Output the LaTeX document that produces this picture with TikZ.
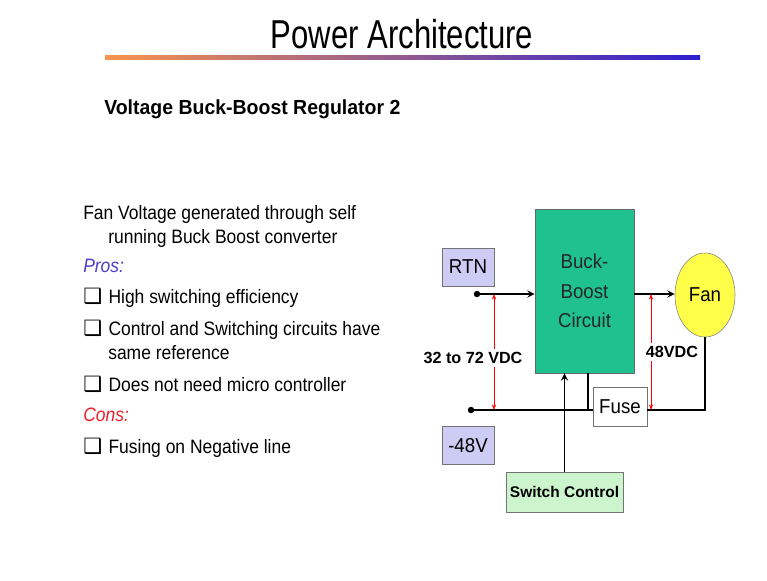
\documentclass[tikz,border=0pt]{standalone}
\usepackage{fontspec}
\setmainfont{Liberation Sans}
\newfontfamily\titlefont[FakeStretch=0.77]{Liberation Sans}
\newfontfamily\headfont[FakeStretch=0.955]{Liberation Sans}
\newfontfamily\bodyfont[FakeStretch=0.9]{Liberation Sans}
\newfontfamily\blockfont[FakeStretch=0.93]{Liberation Sans}
\newfontfamily\symfont{DejaVu Sans}
\usetikzlibrary{positioning,shapes.geometric,arrows.meta}
\definecolor{blockgreen}{HTML}{1FC28F}
\definecolor{termblue}{HTML}{CCCCF5}
\definecolor{fanyellow}{HTML}{FFFF4A}
\definecolor{ctrlgreen}{HTML}{CDF5CD}
\definecolor{prosblue}{HTML}{4A3FC8}
\definecolor{consred}{HTML}{F0202A}
\newcommand{\chkbox}{{\symfont\fontsize{15}{16}\selectfont ❑}}
\tikzset{
  bodytext/.style={anchor=base west, font=\bodyfont\fontsize{13.8}{16}\selectfont},
  termbox/.style={draw=black!55, fill=termblue, minimum width=1.3cm, minimum height=0.95cm, font=\blockfont\fontsize{14.3}{17}\selectfont},
  wire/.style={line width=1.3pt},
  vmark/.style={red, thin, {Stealth[length=4pt,width=3pt]}-{Stealth[length=4pt,width=3pt]}},
}
\begin{document}
\begin{tikzpicture}[x=0.025cm, y=-0.025cm, >=stealth, every node/.style={inner sep=0pt}]
  \fill[white] (0,0) rectangle (767,580);
  \useasboundingbox (0,0) rectangle (767,580);

  % 1. title
  \node[anchor=base, font=\titlefont\fontsize{28.7}{34}\selectfont] (title) at (402,48) {Power Architecture};
  \shade[left color={rgb,255:red,247;green,148;blue,79}, middle color={rgb,255:red,196;green,96;blue,150},
         right color={rgb,255:red,44;green,31;blue,207}] (105,55.5) rectangle (700,59.5);
  \node[anchor=base west, font=\headfont\bfseries\fontsize{14.5}{17}\selectfont] (subtitle) at (104,114) {Voltage Buck-Boost Regulator 2};

  % 2. text block
  \node[bodytext] (l1) at (83,219) {Fan Voltage generated through self};
  \node[bodytext] (l2) at (108,243) {running Buck Boost converter};
  \node[bodytext, text=prosblue, font=\bodyfont\itshape\fontsize{13.8}{16}\selectfont] (pros) at (83,272) {Pros:};
  \node[bodytext] (p1) at (83,303) {\chkbox\hspace{4.5pt}High switching efficiency};
  \node[bodytext] (p2) at (83,335) {\chkbox\hspace{4.5pt}Control and Switching circuits have};
  \node[bodytext] (p2b) at (108,359) {same reference};
  \node[bodytext] (p3) at (83,391) {\chkbox\hspace{4.5pt}Does not need micro controller};
  \node[bodytext, text=consred, font=\bodyfont\itshape\fontsize{13.8}{16}\selectfont] (cons) at (83,421) {Cons:};
  \node[bodytext] (c1) at (83,453) {\chkbox\hspace{4.5pt}Fusing on Negative line};

  % 3. blocks
  \node[draw=black!60, fill=blockgreen, minimum width=2.475cm, minimum height=4.1cm, align=center,
        font=\blockfont\fontsize{14.3}{21}\selectfont, text=black!85] (bb) at (584.5,291) {Buck-\\Boost\\Circuit};
  \node[termbox] (rtn) at (468,267) {RTN};
  \node[termbox] (neg) at (468,445.5) {-48V};
  \node[ellipse, draw=black!50, fill=fanyellow, minimum width=1.5cm, minimum height=2.1cm,
        font=\blockfont\fontsize{14.3}{17}\selectfont] (fan) at (705,295) {Fan};
  \node[draw=black!55, fill=white, minimum width=1.35cm, minimum height=0.975cm,
        font=\blockfont\fontsize{14.3}{17}\selectfont] (fuse) at (620,406.5) {Fuse};
  \node[draw=black!55, fill=ctrlgreen, minimum width=2.925cm, minimum height=1cm,
        font=\bfseries\fontsize{11}{13}\selectfont] (sw) at (564.5,492) {Switch Control};

  % 4. wires
  \coordinate (rtnin) at (477,294);
  \coordinate (negin) at (471,410);
  \coordinate (gnd) at (588,410);
  \draw[wire, ->] (rtnin) -- (rtnin -| bb.west);
  \draw[wire, ->] (rtnin -| bb.east) -- (rtnin -| fan.west);
  \draw[wire] (negin) -- (negin -| fuse.west);
  \draw[wire] (negin -| fuse.east) -| (fan.south);
  \draw[wire] (gnd |- bb.south) -- (gnd);
  \draw[wire, ->] (sw.north) -- (sw.north |- bb.south);
  \fill (rtnin) circle (2.3pt);
  \fill (negin) circle (2.3pt);

  % 5. voltage marks
  \coordinate (vinT) at (494,294);
  \coordinate (vinB) at (494,410);
  \coordinate (voutT) at (651,294);
  \coordinate (voutB) at (651,410);
  \draw[vmark] (vinT) -- (vinB);
  \draw[vmark] (voutT) -- (voutB);
  \node[fill=white, inner sep=2pt, font=\bfseries\fontsize{11.5}{13}\selectfont] (vin) at (473,358) {32 to 72 VDC};
  \node[fill=white, inner sep=2pt, font=\bfseries\fontsize{11.5}{13}\selectfont] (vout) at (672,352) {48VDC};
\end{tikzpicture}
\end{document}
